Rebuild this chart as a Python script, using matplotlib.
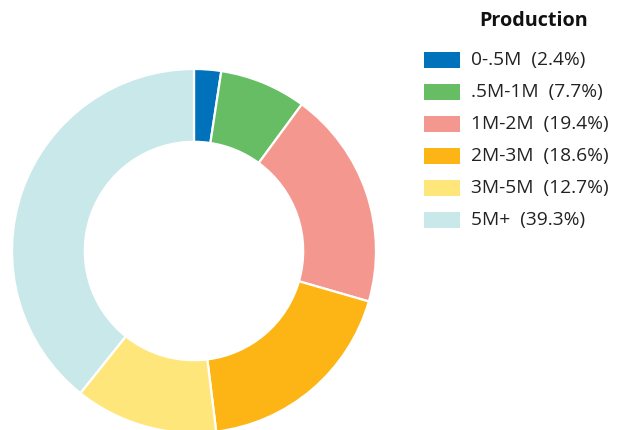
import matplotlib
matplotlib.use("Agg")
import matplotlib.pyplot as plt
from matplotlib.patches import Rectangle

categories = ["0-.5M", ".5M-1M", "1M-2M", "2M-3M", "3M-5M", "5M+"]
shares = [2.4, 7.7, 19.4, 18.6, 12.7, 39.3]
colors = ["#0072BC", "#66BD63", "#F4978E", "#FDB515", "#FFE67A", "#C9E8EA"]
legend_title = "Production"

plt.rcParams['font.family'] = ['Open Sans', 'DejaVu Sans']

W, H = 624, 430
fig = plt.figure(figsize=(W / 100, H / 100), dpi=100)
ax = fig.add_axes([0, 0, 1, 1])

cx, cy = 194, H - 251
R = 182
ax.pie(shares, colors=colors, startangle=90, counterclock=False,
       center=(cx, cy), radius=R,
       wedgeprops=dict(width=R * 0.4, edgecolor="white", linewidth=1.6))
ax.set_xlim(0, W)
ax.set_ylim(0, H)
ax.set_aspect('equal', adjustable='box')
ax.axis('off')

# legend
fig.text(534 / W, 1 - 21 / H, legend_title, ha='center', va='center',
         fontsize=14.2, fontweight='bold', color='#111111')
for i, (lab, val, col) in enumerate(zip(categories, shares, colors)):
    yc = 60 + 32 * i
    fig.add_artist(Rectangle((424 / W, 1 - (yc + 8) / H), 36 / W, 16 / H,
                             transform=fig.transFigure, facecolor=col,
                             edgecolor='none'))
    fig.text(471 / W, 1 - yc / H, f"{lab}  ({val}%)", ha='left', va='center',
             fontsize=13.8, color='#222222')

fig.savefig("out.png", dpi=100)
